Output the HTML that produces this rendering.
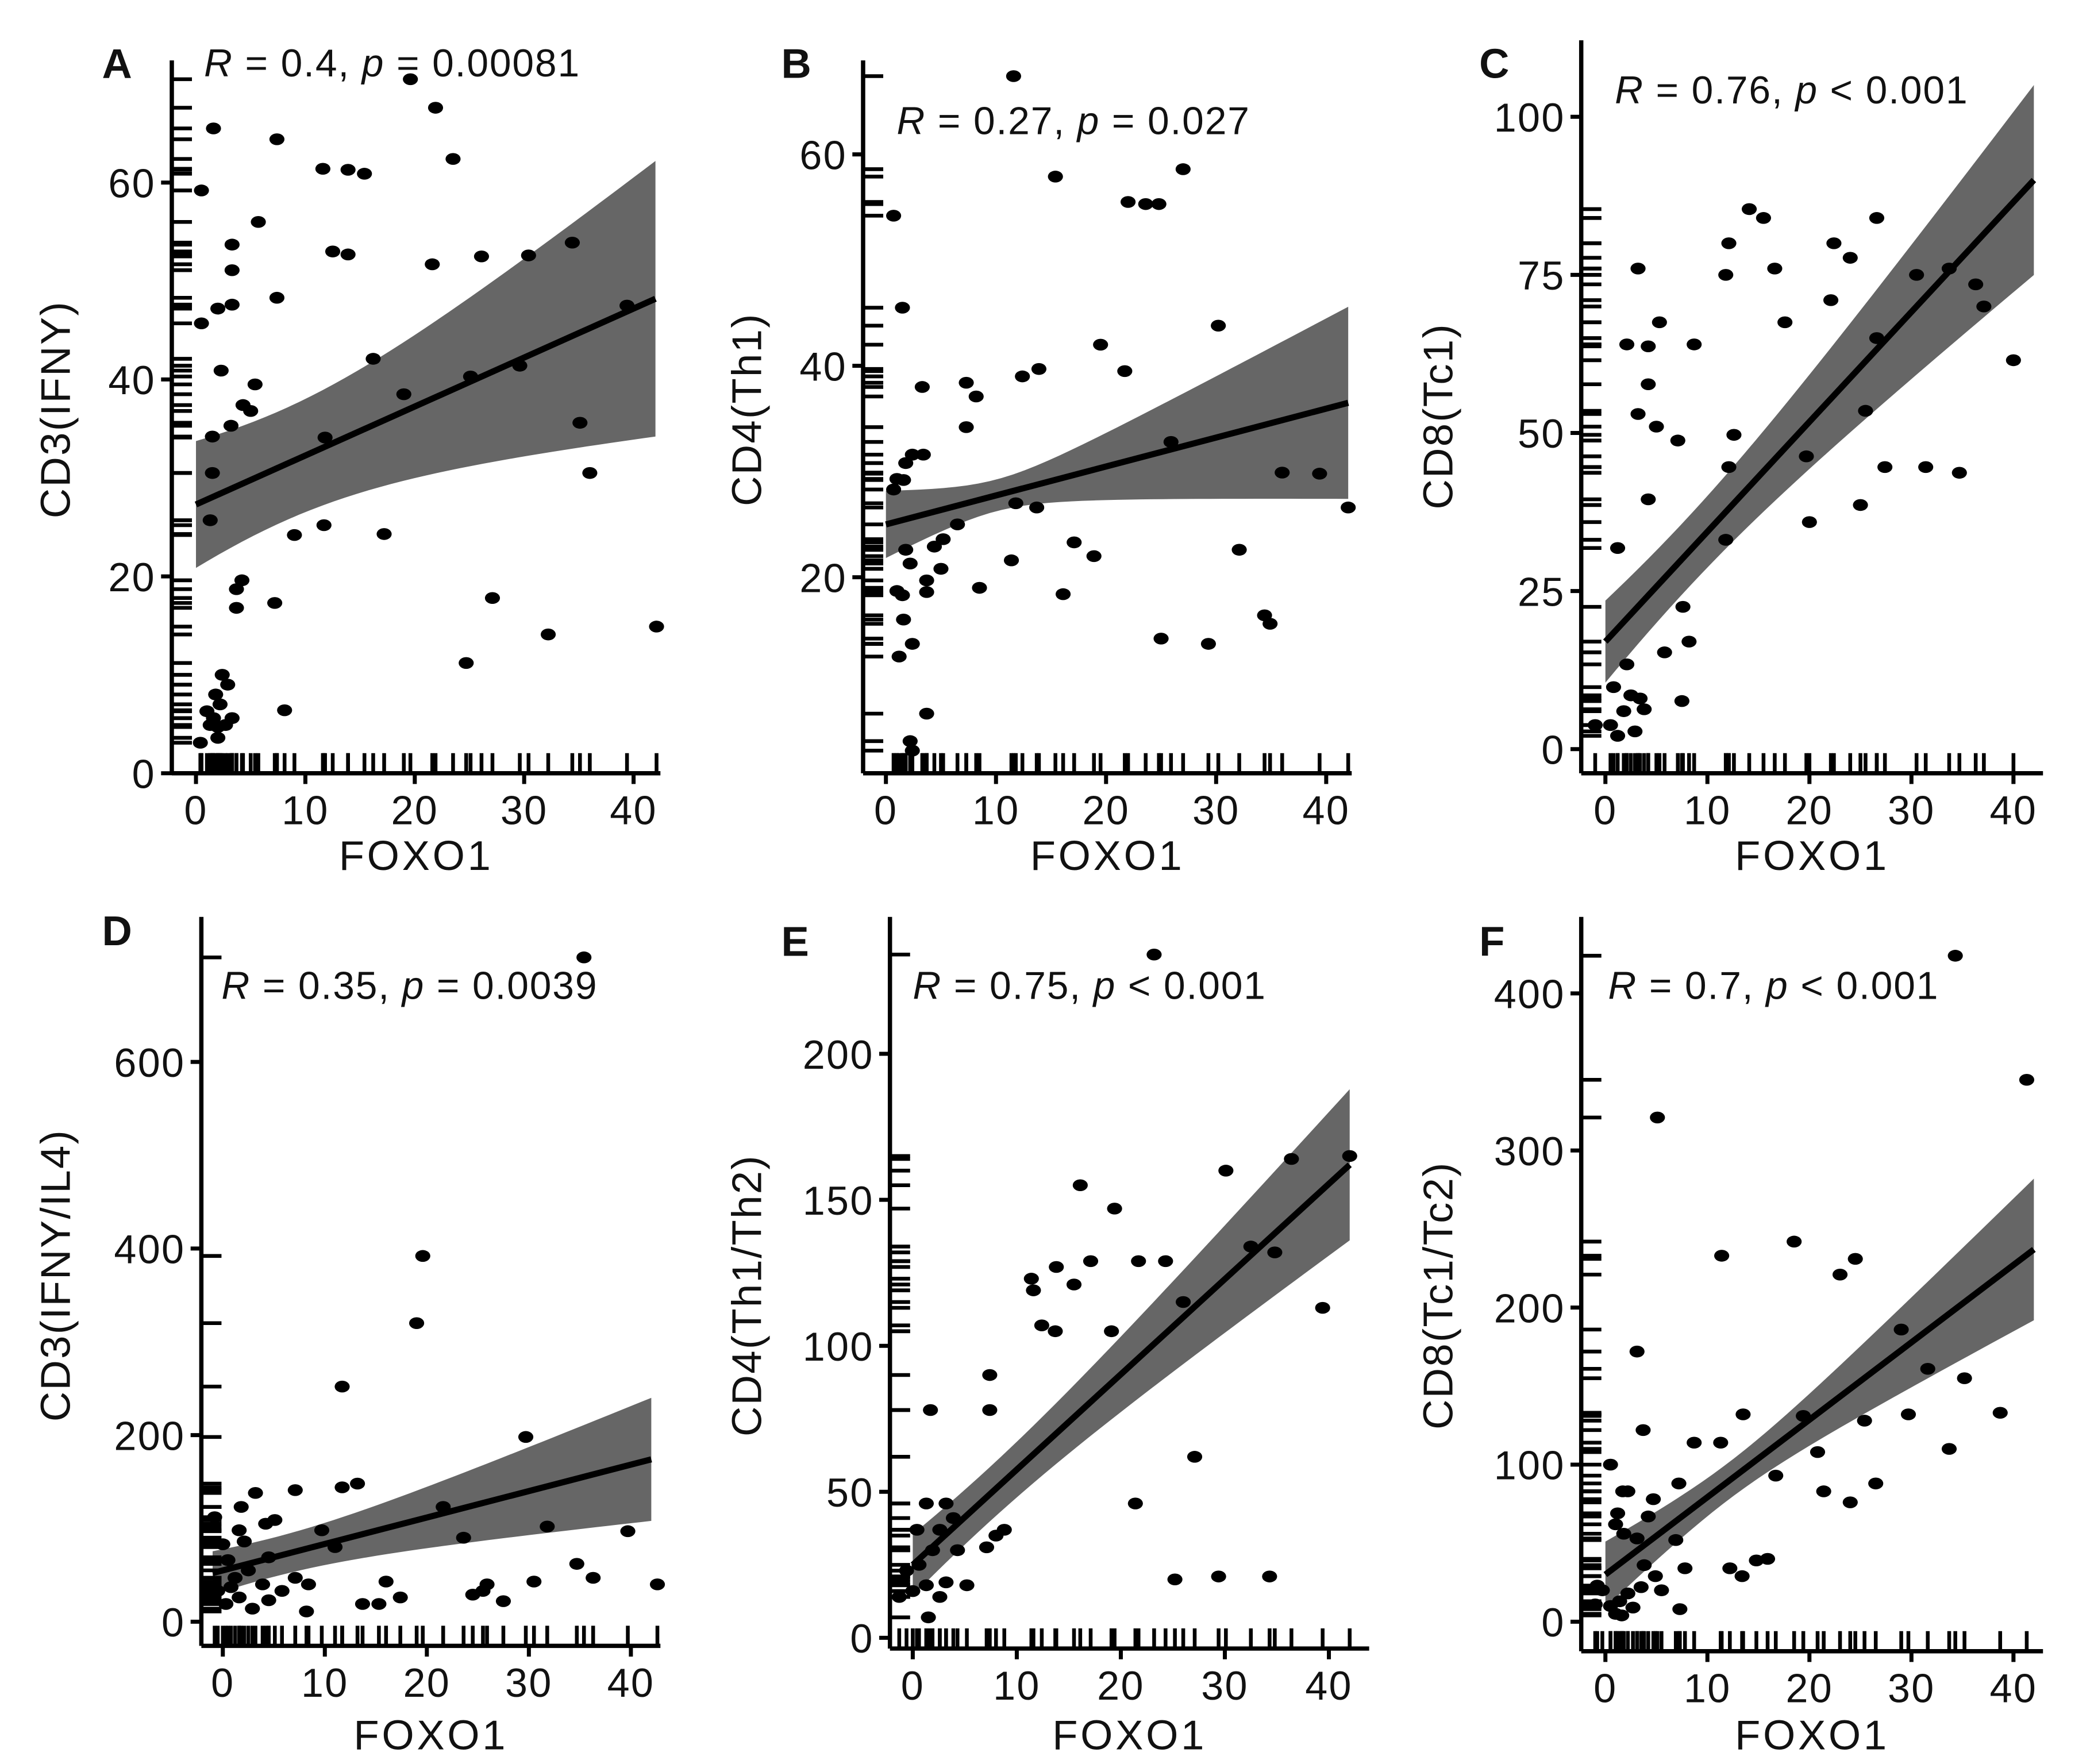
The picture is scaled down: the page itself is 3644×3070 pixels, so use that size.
<!DOCTYPE html>
<html><head><meta charset="utf-8"><style>
html,body{margin:0;padding:0;background:#fff;}
svg{display:block;font-family:"Liberation Sans",Arial,sans-serif;}
</style></head><body>
<svg id="fig" width="3644" height="3070" viewBox="0 0 1560 1314" preserveAspectRatio="none" xmlns="http://www.w3.org/2000/svg"></svg>
<script>
// ---- Panel A data ----
const aX=[19.6,21.9,1.6,7.4,23.5,11.6,13.9,15.4,0.5,5.7,3.3,12.5,13.9,21.6,26.1,30.4,34.4,3.3,7.4,2,3.3,39.4,0.5,16.2,2.3,29.6,25.1,5.4,4.3,5,19,3.2,35.1,1.5,11.8,1.5,36,1.3,11.7,9,17.2,4.2,3.7,3.7,7.2,27.1,32.2,42.1,24.7,8.1,2.4,2.9,1.8,2.2,1,1.6,3.3,1.3,2,0.4,2,2.7];
const aY=[70.5,67.6,65.5,64.4,62.4,61.4,61.3,60.9,59.2,56,53.7,53,52.7,51.7,52.5,52.6,53.9,51.1,48.3,47.2,47.6,47.5,45.7,42.1,40.9,41.4,40.3,39.5,37.4,36.8,38.5,35.3,35.6,34.2,34.1,30.5,30.5,25.7,25.2,24.2,24.3,19.6,18.7,16.8,17.3,17.8,14.1,14.9,11.2,6.4,10,9,8,7,6.3,5.6,5.6,4.9,4.7,3.1,3.6,4.9];
const aXTicks=[0,10,20,30,40];
const aYTicks=[0,20,40,60];
const aFit=[27.3,48.2];
const aBand=[5.7,0.376,8];

// ---- Panel B data ----
const bX=[11.6,27,0.7,15.4,22,23.6,24.8,1.5,19.5,30.2,21.7,12.4,13.9,3.3,7.3,8.2,7.3,2.4,3.4,1.8,1,1.6,0.7,39.4,36,25.9,11.8,13.7,5.2,6.5,8.5,4.4,2.2,3.7,5,11.4,17.1,18.9,16.1,32.1,34.4,34.9,25,29.3,1,1.6,2.4,1.2,3.7,2.2,2.4,1.5,42,3.7,1.8];
const bY=[67.4,58.6,54.2,57.9,55.5,55.3,55.3,45.5,42,43.8,39.5,39,39.7,38,38.4,37.1,34.2,31.6,31.6,30.8,29.3,29.2,28.3,29.8,29.9,32.8,27,26.6,23.6,25,19,22.9,21.3,19.7,20.8,21.6,23.3,22,18.4,22.6,16.4,15.6,14.2,13.7,18.7,16,13.7,12.5,7.1,4.5,3.6,18.3,26.6,18.6,22.6];
const bXTicks=[0,10,20,30,40];
const bYTicks=[20,40,60];
const bFit=[25,36.5];
const bBand=[1.5,0.28,10];

// ---- Panel C data ----
const cX=[14.1,15.5,26.6,12.1,22.4,24,16.6,3.2,11.8,33.7,36.3,30.5,37.1,22.1,5.3,17.6,2.1,4.2,8.7,26.6,40,4.2,3.2,5,7.1,12.6,25.5,19.7,31.4,34.7,27.4,12.1,4.2,25,20,11.8,1.2,7.6,8.2,5.8,7.5,2.1,0.8,2.5,3.4,1.8,0.5,2.9,1.2,3.8,-1];
const cY=[85.4,84,84,80,80,77.7,76,76,75,76,73.5,75,70,71,67.5,67.5,64,63.7,64,65,61.5,57.7,53,51,48.8,49.7,53.5,46.3,44.6,43.7,44.6,44.6,39.5,38.6,35.9,33.1,31.8,22.5,17,15.3,7.6,13.4,9.8,8.5,8,6,3.8,2.8,2.1,6.3,3.8];
const cXTicks=[0,10,20,30,40];
const cYTicks=[0,25,50,75,100];
const cFit=[17,90];
const cBand=[5.6,0.41,8];

// ---- Panel D data ----
const dX=[35.4,19.6,19,11.7,29.7,13.2,11.7,21.6,23.6,31.8,39.7,34.7,36.3,25.9,25.5,24.5,27.5,42.6,30.5,16,17.4,13.7,15.3,8.2,7.1,3.2,1.8,5.1,4.2,1.6,9.7,11,2.1,-0.8,0,4.5,0.5,2.5,1.2,3.9,5.8,1.6,0.3,2.9,-0.5,0.8,4.5,8.4,7.1];
const dY=[712,392,320,252,198,148,144,123,90,102,97,62,47,40,33,29,22,40,43,43,26,19,19,11,141,138,123,109,105,98,98,80,86,112,83,69,66,55,47,40,33,26,19,14,33,37,23,40,47];
const dXTicks=[0,10,20,30,40];
const dYTicks=[0,200,400,600];
const dFit=[55,174];
const dBand=[21,1.69,5];

// ---- Panel E data ----
const eX=[23.2,36.4,42,30.1,16.1,19.4,34.8,32.5,24.3,21.7,17.1,13.8,11.4,11.6,15.5,26,39.4,12.4,13.7,19.1,1.7,7.4,7.4,27.1,21.4,8.8,8,7.1,5.2,25.2,29.4,34.3,1.5,3.2,1.3,3.9,0.4,2.6,1.9,4.3,0.6,-0.6,1.3,-1.3,0,2.6,3.2];
const eY=[234,164,165,160,155,147,132,134,129,129,129,127,123,119,121,115,113,107,105,105,78,90,78,62,46,37,35,31,18,20,21,21,7,46,46,41,37,37,30,30,25,23,18,14,16,14,19];
const eXTicks=[0,10,20,30,40];
const eYTicks=[0,50,100,150,200];
const eFit=[25,162];
const eBand=[9.3,0.69,7];

// ---- Panel F data ----
const fX=[34.3,41.3,5.1,18.5,11.4,24.5,23,29,3.1,35.2,31.6,29.7,38.7,13.5,25.4,19.4,3.7,8.7,11.3,20.8,33.7,0.5,16.7,26.5,7.2,21.4,24,1.7,2.2,4.7,1.2,4.2,1,6.9,3.8,3.1,1.8,15.9,14.8,12.2,13.4,7.8,4.9,5.5,7.3,3.5,2.2,1.4,0.5,1,2.7,1.6,-1,-0.8,-0.3];
const fY=[424,345,321,242,233,231,221,186,172,155,161,132,133,132,128,131,122,114,114,108,110,100,93,88,88,83,76,83,83,78,69,67,62,52,36,53,56,40,39,34,29,34,29,20,8,22,18,13,10,5,9,4,11,23,20];
const fXTicks=[0,10,20,30,40];
const fYTicks=[0,100,200,300,400];
const fFit=[30,237];
const fBand=[11.8,1.45,12];

const NS="http://www.w3.org/2000/svg";
const svg=document.getElementById('fig');
function mk(tag,attrs,parent){const e=document.createElementNS(NS,tag);for(const k in attrs)e.setAttribute(k,attrs[k]);(parent||svg).appendChild(e);return e;}

function panel(cfg,xs,ys,xt,yt,fit,band){
  const g=mk('g',{});
  
  
  const sx=v=>cfg.x0+(v-0)*(cfg.x40-cfg.x0)/40;
  const sy=v=>cfg.yA+(v-cfg.vA)*(cfg.yB-cfg.yA)/(cfg.vB-cfg.vA);
  const axY=cfg.axisY, axX=cfg.axisX;
  const xmin=cfg.lineX0, xmax=42;
  let up=[],lo=[];
  for(let i=0;i<=40;i++){const x=xmin+(xmax-xmin)*i/40;const yh=fit[0]+(fit[1]-fit[0])*x/42;const h=Math.sqrt(band[0]*band[0]+Math.pow((x-band[2])*band[1],2));up.push(sx(x)+','+sy(yh+h));lo.unshift(sx(x)+','+sy(yh-h));}
  const b=mk('polygon',{points:up.concat(lo).join(' '),fill:'#666'},g);
  
  
  for(let i=0;i<xs.length;i++){
    const c=mk('ellipse',{cx:sx(xs[i]),cy:sy(ys[i]),rx:5.6,ry:4.4,fill:'#000'},g);
    
    
  }
  const l=mk('line',{x1:sx(xmin),y1:sy(fit[0]+(fit[1]-fit[0])*xmin/42),x2:sx(xmax),y2:sy(fit[1]),stroke:'#000','stroke-width':4.6},g);
  
  
  for(let i=0;i<xs.length;i++){
    const r=mk('line',{x1:sx(xs[i]),x2:sx(xs[i]),y1:axY-15,y2:axY,stroke:'#000','stroke-width':2.8},g);
    
    
    const r2=mk('line',{x1:axX,x2:axX+15,y1:sy(ys[i]),y2:sy(ys[i]),stroke:'#000','stroke-width':2.8},g);
    
    
  }
  const ya=mk('line',{x1:axX,x2:axX,y1:cfg.top,y2:axY,stroke:'#000','stroke-width':3.2},g);
  
  
  const xa=mk('line',{x1:axX,x2:cfg.right,y1:axY,y2:axY,stroke:'#000','stroke-width':3.2},g);
  
  
  for(const t of xt){
    mk('line',{x1:sx(t),x2:sx(t),y1:axY,y2:axY+8,stroke:'#000','stroke-width':3},g);
    const tx=mk('text',{x:sx(t),y:axY+38,'font-size':30,'letter-spacing':1,'text-anchor':'middle',fill:'#111'},g);
    tx.textContent=t;
    
    
  }
  for(const t of yt){
    mk('line',{x1:axX-8,x2:axX,y1:sy(t),y2:sy(t),stroke:'#000','stroke-width':3},g);
    const ty=mk('text',{x:axX-12,y:sy(t)+11,'font-size':30,'letter-spacing':1,'text-anchor':'end',fill:'#111'},g);
    ty.textContent=t;
    
    
  }
  const xtl=mk('text',{x:(axX+cfg.right)/2,y:cfg.xTitleY,'font-size':31,'letter-spacing':2,'text-anchor':'middle',fill:'#111'},g);
  xtl.textContent='FOXO1';
  
  
  const ytl=mk('text',{x:0,y:0,'font-size':31,'letter-spacing':1,'text-anchor':'middle',fill:'#111',transform:'translate('+cfg.yTitleX+','+cfg.yTitleY+') rotate(-90)'},g);
  ytl.textContent=cfg.ytitle;
  
  
  const pl=mk('text',{x:cfg.letX,y:cfg.letY,'font-size':31,'font-weight':'bold',fill:'#111'},g);
  pl.textContent=cfg.id;
  
  
  const st=mk('text',{x:cfg.stX,y:cfg.stY,'font-size':29,'letter-spacing':0.8,fill:'#111'},g);
  st.innerHTML='<tspan font-style="italic">R</tspan> = '+cfg.r+', <tspan font-style="italic">p</tspan> '+cfg.p;
  
  
}

panel({id:'A',x0:146,x40:472,vA:0,yA:576,vB:60,yB:136,axisY:576,axisX:128,top:45,right:492,lineX0:0,xTitleY:648,yTitleX:52,yTitleY:305,ytitle:'CD3(IFNY)',letX:76,letY:58,stX:152,stY:57,r:'0.4',p:'= 0.00081'},aX,aY,aXTicks,aYTicks,aFit,aBand);
panel({id:'B',x0:660,x40:988,vA:20,yA:430,vB:60,yB:115,axisY:576,axisX:643,top:45,right:1007,lineX0:0,xTitleY:648,yTitleX:567,yTitleY:305,ytitle:'CD4(Th1)',letX:582,letY:58,stX:668,stY:100,r:'0.27',p:'= 0.027'},bX,bY,bXTicks,bYTicks,bFit,bBand);
panel({id:'C',x0:1196,x40:1500,vA:0,yA:558,vB:100,yB:87,axisY:576,axisX:1178,top:30,right:1522,lineX0:0,xTitleY:648,yTitleX:1082,yTitleY:310,ytitle:'CD8(Tc1)',letX:1102,letY:58,stX:1203,stY:77,r:'0.76',p:'< 0.001'},cX,cY,cXTicks,cYTicks,cFit,cBand);
panel({id:'D',x0:166,x40:470,vA:0,yA:1208,vB:600,yB:791,axisY:1226,axisX:150,top:683,right:492,lineX0:-1,xTitleY:1303,yTitleX:52,yTitleY:950,ytitle:'CD3(IFNY/IL4)',letX:76,letY:704,stX:165,stY:744,r:'0.35',p:'= 0.0039'},dX,dY,dXTicks,dYTicks,dFit,dBand);
panel({id:'E',x0:680,x40:990,vA:0,yA:1220,vB:200,yB:785,axisY:1228,axisX:663,top:683,right:1020,lineX0:0,xTitleY:1303,yTitleX:567,yTitleY:965,ytitle:'CD4(Th1/Th2)',letX:582,letY:712,stX:680,stY:744,r:'0.75',p:'< 0.001'},eX,eY,eXTicks,eYTicks,eFit,eBand);
panel({id:'F',x0:1196,x40:1500,vA:0,yA:1208,vB:400,yB:740,axisY:1230,axisX:1178,top:683,right:1522,lineX0:0,xTitleY:1303,yTitleX:1082,yTitleY:965,ytitle:'CD8(Tc1/Tc2)',letX:1102,letY:712,stX:1198,stY:744,r:'0.7',p:'< 0.001'},fX,fY,fXTicks,fYTicks,fFit,fBand);
</script>
</body></html>
